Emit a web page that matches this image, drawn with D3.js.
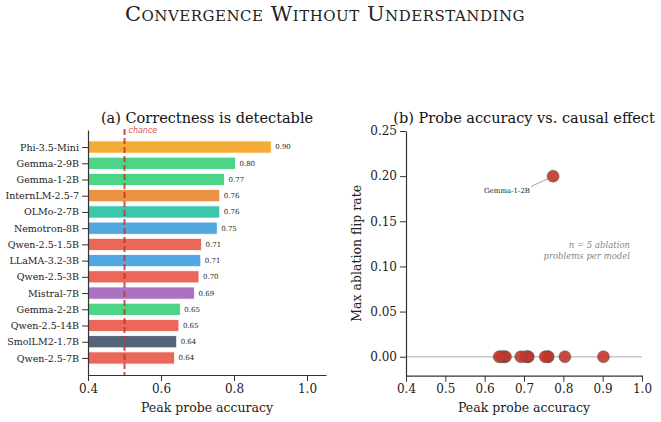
<!DOCTYPE html>
<html>
<head>
<meta charset="utf-8">
<script src="https://cdn.jsdelivr.net/npm/d3@7"></script>
<style>
  body { margin: 0; background: #fff; }
  text { font-family: "DejaVu Serif", serif; }
</style>
</head>
<body>
<div id="chart"></div>
<script>
// data
const models = ["Phi-3.5-Mini", "Gemma-2-9B", "Gemma-1-2B", "InternLM-2.5-7", "OLMo-2-7B", "Nemotron-8B",
  "Qwen-2.5-1.5B", "LLaMA-3.2-3B", "Qwen-2.5-3B", "Mistral-7B", "Gemma-2-2B", "Qwen-2.5-14B",
  "SmolLM2-1.7B", "Qwen-2.5-7B"];
const accuracy = [0.902, 0.804, 0.774, 0.761, 0.761, 0.754, 0.711, 0.709, 0.704, 0.692, 0.653, 0.649, 0.643, 0.637];
const flipRate = [0, 0, 0.20, 0, 0, 0, 0, 0, 0, 0, 0, 0, 0, 0];
const barColors = ["#f39c12", "#2ecc71", "#2ecc71", "#e67e22", "#1abc9c", "#3498db", "#e74c3c", "#3498db",
  "#e74c3c", "#9b59b6", "#2ecc71", "#e74c3c", "#34495e", "#e74c3c"];
const barTicks = [0.4, 0.6, 0.8, 1.0];
const scatterXTicks = [0.4, 0.5, 0.6, 0.7, 0.8, 0.9, 1.0];
const scatterYTicks = [0, 0.05, 0.10, 0.15, 0.20, 0.25];

const W = 661, H = 422;
const svg = d3.select("#chart").append("svg")
  .attr("width", W).attr("height", H);

// main title
svg.append("text")
  .attr("x", 325).attr("y", 21)
  .attr("text-anchor", "middle")
  .style("font-family", "'DejaVu Serif', serif")
  .style("font-variant", "small-caps")
  .style("font-size", "21px")
  .style("letter-spacing", "0.5px")
  .style("fill", "#222")
  .text("Convergence Without Understanding");

// ---------- (a) bars ----------
const x1 = d3.scaleLinear().domain([0.4, 1.052]).range([88, 326]);
const y1 = d3.scaleLinear().domain([-1.05, models.length - 1 + 1.05]).range([130, 375]);
const barH = 0.75 * (y1(1) - y1(0));

const g1 = svg.append("g");

g1.selectAll("rect.bar")
  .data(models)
  .join("rect")
    .attr("class", "bar")
    .attr("x", x1(0.4))
    .attr("y", (d, i) => y1(i) - barH / 2)
    .attr("width", (d, i) => x1(accuracy[i]) - x1(0.4))
    .attr("height", barH)
    .attr("fill", (d, i) => barColors[i])
    .attr("fill-opacity", 0.85)
    .attr("stroke", "#fff")
    .attr("stroke-width", 0.8);

g1.selectAll("text.val")
  .data(models)
  .join("text")
    .attr("class", "val")
    .attr("x", (d, i) => x1(accuracy[i]) + 4)
    .attr("y", (d, i) => y1(i))
    .attr("dy", "0.35em")
    .style("font-size", "7px")
    .style("fill", "#222")
    .text((d, i) => d3.format(".2f")(accuracy[i]));

// chance line
g1.append("line")
  .attr("x1", x1(0.5)).attr("x2", x1(0.5))
  .attr("y1", 129).attr("y2", 375)
  .attr("stroke", "#c0392b")
  .attr("stroke-width", 2)
  .attr("stroke-dasharray", "6,3")
  .attr("opacity", 0.85);
g1.append("text")
  .attr("x", x1(0.5) + 4).attr("y", 133)
  .style("font-family", "'DejaVu Sans', sans-serif")
  .style("font-style", "italic")
  .style("font-size", "8px")
  .style("fill", "#d9534f")
  .text("chance");

// axes
const ax1 = g1.append("g")
  .attr("transform", `translate(0,375)`)
  .call(d3.axisBottom(x1).tickValues(barTicks).tickFormat(d3.format(".1f")).tickSizeOuter(0));
const ay1 = g1.append("g")
  .attr("transform", `translate(88,0)`)
  .call(d3.axisLeft(y1).tickValues(d3.range(models.length)).tickFormat(i => models[i]).tickSizeOuter(0));
[ax1, ay1].forEach(a => {
  a.select(".domain").attr("stroke", "#333").attr("stroke-width", 1.2);
  a.selectAll(".tick line").attr("stroke", "#333").attr("stroke-width", 1);
  a.selectAll("text").style("font-family", "'DejaVu Serif', serif").style("fill", "#222");
});
ax1.selectAll("text").style("font-size", "12px");
ay1.selectAll("text").style("font-size", "9.5px");

g1.append("text")
  .attr("x", (x1(0.4) + 326) / 2).attr("y", 412)
  .attr("text-anchor", "middle")
  .style("font-size", "12.5px").style("fill", "#222")
  .text("Peak probe accuracy");
g1.append("text")
  .attr("x", (x1(0.4) + 326) / 2 + 0).attr("y", 123)
  .attr("text-anchor", "middle")
  .style("font-size", "14.5px").style("fill", "#111")
  .text("(a) Correctness is detectable");

// ---------- (b) scatter ----------
const x2 = d3.scaleLinear().domain([0.4, 1.0]).range([406, 642]);
const y2 = d3.scaleLinear().domain([-0.021, 0.25]).range([375.7, 131]);
const g2 = svg.append("g");

g2.append("line")
  .attr("x1", x2(0.4)).attr("x2", x2(1.0))
  .attr("y1", y2(0)).attr("y2", y2(0))
  .attr("stroke", "#c8c8c8").attr("stroke-width", 1.5);

// annotation for Gemma-1-2B
const gi = models.indexOf("Gemma-1-2B");
g2.append("line")
  .attr("x1", 531).attr("y1", 186.5)
  .attr("x2", x2(accuracy[gi]) - 5).attr("y2", y2(flipRate[gi]) + 2.5)
  .attr("stroke", "#888").attr("stroke-width", 0.8);
g2.append("text")
  .attr("x", 507).attr("y", 193)
  .attr("text-anchor", "middle")
  .style("font-size", "7px").style("fill", "#222")
  .text("Gemma-1-2B");

g2.selectAll("circle")
  .data(models)
  .join("circle")
    .attr("cx", (d, i) => x2(accuracy[i]))
    .attr("cy", (d, i) => y2(flipRate[i]))
    .attr("r", 6)
    .attr("fill", "#c0392b")
    .attr("fill-opacity", 0.9)
    .attr("stroke", "#555")
    .attr("stroke-opacity", 0.6)
    .attr("stroke-width", 0.8);

g2.append("text")
  .attr("x", 630).attr("y", 248)
  .attr("text-anchor", "end")
  .style("font-style", "italic").style("font-size", "8.5px").style("fill", "#888")
  .text("n = 5 ablation");
g2.append("text")
  .attr("x", 630).attr("y", 259)
  .attr("text-anchor", "end")
  .style("font-style", "italic").style("font-size", "8.5px").style("fill", "#888")
  .text("problems per model");

const ax2 = g2.append("g")
  .attr("transform", `translate(0,375.7)`)
  .call(d3.axisBottom(x2).tickValues(scatterXTicks).tickFormat(d3.format(".1f")).tickSizeOuter(0));
const ay2 = g2.append("g")
  .attr("transform", `translate(406,0)`)
  .call(d3.axisLeft(y2).tickValues(scatterYTicks).tickFormat(d3.format(".2f")).tickSizeOuter(0));
[ax2, ay2].forEach(a => {
  a.select(".domain").attr("stroke", "#333").attr("stroke-width", 1.2);
  a.selectAll(".tick line").attr("stroke", "#333").attr("stroke-width", 1);
  a.selectAll("text").style("font-family", "'DejaVu Serif', serif").style("fill", "#222").style("font-size", "12px");
});

g2.append("text")
  .attr("x", (406 + 642) / 2).attr("y", 412)
  .attr("text-anchor", "middle")
  .style("font-size", "12.5px").style("fill", "#222")
  .text("Peak probe accuracy");
g2.append("text")
  .attr("transform", `translate(361,${(131 + 375.7) / 2}) rotate(-90)`)
  .attr("text-anchor", "middle")
  .style("font-size", "12.5px").style("fill", "#222")
  .text("Max ablation flip rate");
g2.append("text")
  .attr("x", 524).attr("y", 123)
  .attr("text-anchor", "middle")
  .style("font-size", "14.5px").style("fill", "#111")
  .text("(b) Probe accuracy vs. causal effect");
</script>
</body>
</html>
